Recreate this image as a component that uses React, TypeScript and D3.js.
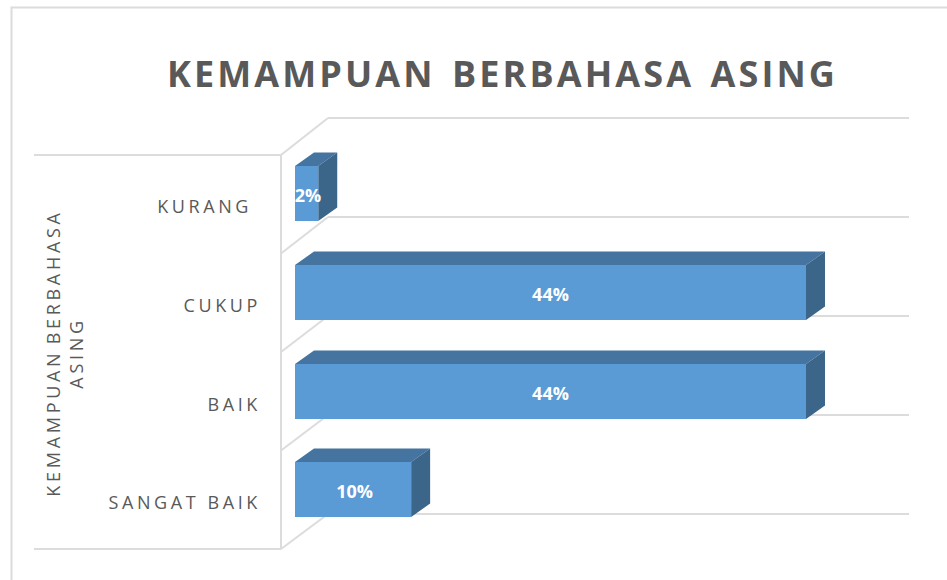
import React from "react";
import * as d3 from "d3";

const categories = ["KURANG", "CUKUP", "BAIK", "SANGAT BAIK"];
const values = [2, 44, 44, 10];
const labels = ["2%", "44%", "44%", "10%"];
const titleText = "KEMAMPUAN BERBAHASA ASING";
const axisLines = ["KEMAMPUAN BERBAHASA", "ASING"];

const FONT = "'Open Sans', sans-serif";
const GRID = "#dcdcdc";
const TXT = "#595959";

const x = d3.scaleLinear().domain([0, 44]).range([295, 806]);
const yFront = d3.scaleBand().domain(categories).range([155, 549]).paddingInner(0).paddingOuter(0);
const yBack = d3.scaleBand().domain(categories).range([118, 514]).paddingInner(0).paddingOuter(0);
const barH = 55;
const dx = 19;
const dy = 13.5;
const wallX0 = 281, wallX1 = 328;
const wallRight = 909;

export default function App() {
  const front = [155, ...categories.map((c) => (yFront(c) as number) + yFront.bandwidth())];
  const back = [118, ...categories.map((c) => (yBack(c) as number) + yBack.bandwidth())];
  return (
    <svg width={947} height={580} style={{ position: "absolute", left: 0, top: 0, background: "#fff" }}>
      <path d="M11.5,580V7.5H947" fill="none" stroke={GRID} strokeWidth={2} />
      <text x={167} y={87} fontFamily={FONT} fontWeight={700} fontSize={36} fill={TXT} letterSpacing={3.1} wordSpacing={4}>
        {titleText}
      </text>

      {front.map((l, i) => (
        <g key={i} fill="none" stroke={GRID} strokeWidth={2}>
          <line x1={wallX0} y1={l} x2={wallX1} y2={back[i]} />
          <line x1={wallX1} y1={back[i]} x2={wallRight} y2={back[i]} />
        </g>
      ))}
      <line x1={34} y1={155} x2={wallX0} y2={155} stroke={GRID} strokeWidth={2} />
      <line x1={34} y1={549} x2={wallX0} y2={549} stroke={GRID} strokeWidth={2} />
      <line x1={wallX0} y1={155} x2={wallX0} y2={549} stroke={GRID} strokeWidth={2} />

      {categories.map((c, i) => {
        const x0 = x(0);
        const x1 = x(values[i]);
        const top = (yBack(c) as number) + yBack.bandwidth() / 2 - barH / 2 + 26 - (i === 3 ? 1 : 0);
        const bot = top + barH;
        return (
          <g key={c}>
            <polygon points={`${x0},${top} ${x0 + dx},${top - dy} ${x1 + dx},${top - dy} ${x1},${top}`} fill="#44749f" />
            <polygon points={`${x1},${top} ${x1 + dx},${top - dy} ${x1 + dx},${bot - dy} ${x1},${bot}`} fill="#3b6589" />
            <rect x={x0} y={top} width={x1 - x0} height={barH} fill="#5b9bd5" />
            <text x={i === 0 ? x0 + 13 : (x0 + x1) / 2 + (i === 3 ? 1.5 : 0)} y={top + 36} textAnchor="middle" fontFamily={FONT} fontWeight={700} fontSize={18} fill="#fff">
              {labels[i]}
            </text>
            <text x={i === 0 ? 252 : 261} y={top + 47} textAnchor="end" fontFamily={FONT} fontSize={18} fill={TXT} letterSpacing={3.6}>
              {c}
            </text>
          </g>
        );
      })}

      <g transform="translate(60,353) rotate(-90)" fontFamily={FONT} fontSize={18} fill={TXT} letterSpacing={3.7} wordSpacing={-3} textAnchor="middle">
        <text x={0} y={0}>{axisLines[0]}</text>
        <text x={0} y={23}>{axisLines[1]}</text>
      </g>
    </svg>
  );
}
